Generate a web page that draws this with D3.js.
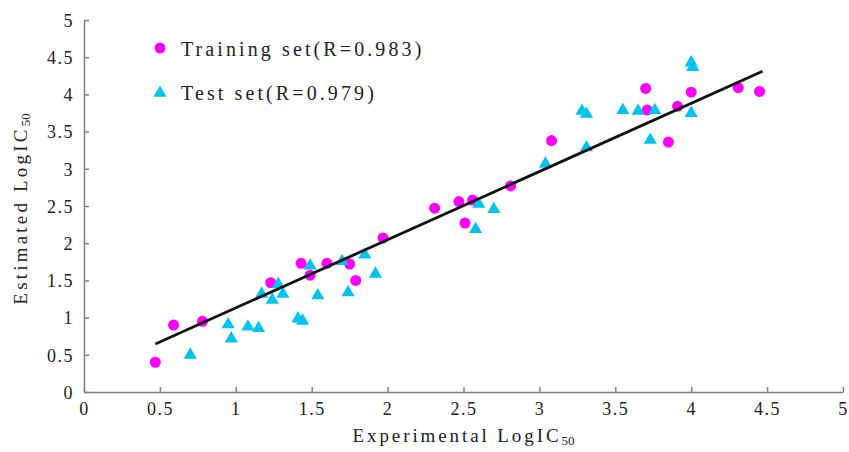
<!DOCTYPE html>
<html>
<head>
<meta charset="utf-8">
<script src="https://cdn.jsdelivr.net/npm/d3@7"></script>
<style>
    body { margin: 0; background: #fff; }
    text { font-family: "Liberation Serif", "DejaVu Serif", serif; fill: #222; }
</style>
</head>
<body>
<div id="chart"></div>
<script>
// set the dimensions of the graph
let width = 849,
    height = 452;

// training set (magenta circles)
let trainX = [0.47, 0.59, 0.78, 1.23, 1.43, 1.49, 1.60, 1.75, 1.79, 1.97, 2.31, 2.47,
    2.51, 2.56, 2.81, 3.08, 3.70, 3.71, 3.85, 3.91, 4.00, 4.31, 4.45];
let trainY = [0.40, 0.90, 0.95, 1.47, 1.73, 1.57, 1.73, 1.72, 1.50, 2.07, 2.47, 2.56,
    2.27, 2.58, 2.77, 3.38, 4.08, 3.79, 3.36, 3.84, 4.03, 4.09, 4.04];

// test set (cyan triangles)
let testX = [0.70, 0.95, 0.97, 1.08, 1.15, 1.17, 1.24, 1.28, 1.31, 1.41, 1.44, 1.49,
    1.54, 1.70, 1.74, 1.85, 1.92, 2.58, 2.60, 2.70, 3.04, 3.28, 3.31, 3.31, 3.55,
    3.65, 3.73, 3.76, 4.00, 4.00, 4.01];
let testY = [0.51, 0.92, 0.73, 0.89, 0.87, 1.33, 1.25, 1.46, 1.33, 1.00, 0.97, 1.71,
    1.31, 1.77, 1.35, 1.86, 1.60, 2.20, 2.54, 2.47, 3.08, 3.79, 3.75, 3.30, 3.80,
    3.79, 3.40, 3.80, 3.76, 4.44, 4.38];

// regression line end points
let fitX = [0.47, 4.47];
let fitY = [0.645, 4.31];

let tickVals = [0, 0.5, 1, 1.5, 2, 2.5, 3, 3.5, 4, 4.5, 5];
let legendLabels = ["Training set(R=0.983)", "Test set(R=0.979)"];

let magenta = "#ff00ff",
    cyan = "#00c3f2",
    axisGrey = "#808080";

let svg = d3.select("#chart")
    .append("svg")
    .attr("width", width)
    .attr("height", height);

// scales
let x = d3.scaleLinear()
    .domain([0, 5])
    .range([84, 843]);
let y = d3.scaleLinear()
    .domain([0, 5])
    .range([392, 20]);

// X axis
let xAxis = svg.append("g")
    .attr("transform", "translate(0," + y(0) + ")")
    .call(d3.axisBottom(x)
        .tickValues(tickVals)
        .tickFormat(d => d)
        .tickSizeInner(-5)
        .tickSizeOuter(0)
        .tickPadding(10));

// Y axis
let yAxis = svg.append("g")
    .attr("transform", "translate(" + x(0) + ",0)")
    .call(d3.axisLeft(y)
        .tickValues(tickVals)
        .tickFormat(d => d)
        .tickSizeInner(-5)
        .tickSizeOuter(0)
        .tickPadding(10));

[xAxis, yAxis].forEach(a => {
    a.selectAll("path, line")
        .attr("stroke", axisGrey)
        .attr("stroke-width", 1.5);
    a.selectAll("text")
        .style("font-family", "'Liberation Serif', serif")
        .style("font-size", "18px")
        .style("letter-spacing", "1.5px")
        .attr("fill", "#222");
});
yAxis.selectAll("text").attr("dy", "0.35em");

// axis titles
let xTitle = svg.append("text")
    .attr("x", (x(0) + x(5)) / 2)
    .attr("y", 442)
    .attr("text-anchor", "middle")
    .style("font-size", "19px")
    .style("letter-spacing", "2.9px");
xTitle.append("tspan").text("Experimental LogIC");
xTitle.append("tspan").attr("dy", 3).style("font-size", "13px").style("letter-spacing", "0px").text("50");

let yTitle = svg.append("text")
    .attr("transform", "translate(27," + ((y(0) + y(5)) / 2 + 3) + ") rotate(-90)")
    .attr("text-anchor", "middle")
    .style("font-size", "19px")
    .style("letter-spacing", "3.2px");
yTitle.append("tspan").text("Estimated LogIC");
yTitle.append("tspan").attr("dy", 3).style("font-size", "13px").style("letter-spacing", "0px").text("50");

// training points
let trainData = trainX.map((d, i) => ({ x: d, y: trainY[i] }));
svg.append("g")
    .selectAll("circle")
    .data(trainData)
    .enter()
    .append("circle")
    .attr("cx", d => x(d.x))
    .attr("cy", d => y(d.y))
    .attr("r", 5.5)
    .style("fill", magenta);

// test points
let testData = testX.map((d, i) => ({ x: d, y: testY[i] }));
let tri = d3.symbol().type(d3.symbolTriangle).size(75);
svg.append("g")
    .selectAll("path")
    .data(testData)
    .enter()
    .append("path")
    .attr("d", tri)
    .attr("transform", d => "translate(" + x(d.x) + "," + (y(d.y) + 1) + ")")
    .style("fill", cyan);

// regression line
let fitData = fitX.map((d, i) => ({ x: d, y: fitY[i] }));
svg.append("path")
    .datum(fitData)
    .attr("fill", "none")
    .attr("stroke", "#111")
    .attr("stroke-width", 2.8)
    .attr("d", d3.line().x(d => x(d.x)).y(d => y(d.y)));

// legend
let legend = svg.append("g");
legend.append("circle")
    .attr("cx", 160)
    .attr("cy", 48)
    .attr("r", 5.5)
    .style("fill", magenta);
legend.append("path")
    .attr("d", tri)
    .attr("transform", "translate(160,93)")
    .style("fill", cyan);
legend.selectAll("mylabels")
    .data(legendLabels)
    .enter()
    .append("text")
    .attr("x", 181)
    .attr("y", (d, i) => 56 + i * 44)
    .style("font-size", "20px")
    .style("letter-spacing", "3.1px")
    .text(d => d);
</script>
</body>
</html>
